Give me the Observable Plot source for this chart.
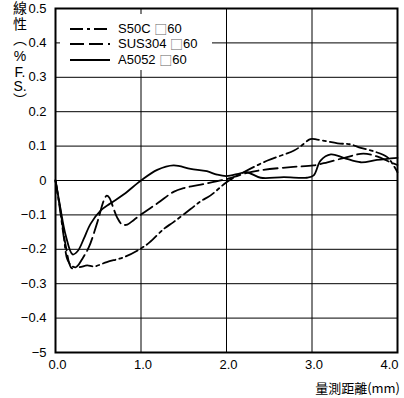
<!DOCTYPE html>
<html>
<head>
<meta charset="utf-8">
<script src="https://cdn.jsdelivr.net/npm/d3@7"></script>
<script src="https://cdn.jsdelivr.net/npm/@observablehq/plot@0.6"></script>
<style>
  html, body { margin: 0; padding: 0; background: #fff; }
  #wrap { position: relative; width: 404px; height: 398px; font-family: "Liberation Sans", Arial, sans-serif; }
  #ylab { position: absolute; left: 12px; top: 1px; writing-mode: vertical-rl; text-orientation: upright;
          font-family: "Noto Sans CJK TC", "Noto Sans CJK SC", sans-serif; font-size: 14px; line-height: 16px; letter-spacing: 1.5px; color: #000; }
  #ylab .tcu { text-combine-upright: all; font-family: "Liberation Sans", Arial, sans-serif; }
  #ylab .pct { font-family: "Liberation Sans", Arial, sans-serif; }
  #xlab { position: absolute; right: 4px; top: 378px; font-size: 13px; color: #000;
          font-family: "Noto Sans CJK TC", "Liberation Sans", sans-serif; }
  #legend { position: absolute; left: 60px; top: 14px; width: 152px; height: 56px; background: #fff; }
  #legend .row { position: absolute; left: 0; height: 15px; line-height: 15px; display: flex; align-items: center; font-size: 13px; color: #000; white-space: pre; }
  #legend .row span { display: inline-block; height: 15px; line-height: 15px; overflow: visible; }
  #legend .box { font-family: "Noto Sans CJK TC", sans-serif; color: #666; font-size: 13px; }
  #legend svg { margin-left: 10px; margin-right: 8px; }
</style>
</head>
<body>
<div id="wrap">
  <div id="chart"></div>
  <div id="legend"></div>
  <div id="ylab">線性（<span class="pct">%</span><span class="tcu">F.</span><span class="tcu">S.</span>）</div>
  <div id="xlab">量測距離(mm)</div>
</div>
<script>
// ---- data ----
const seriesNames = ["S50C □60", "SUS304 □60", "A5052 □60"];
const seriesDash = ["13,4,3,4", "14,5", null];

const s50cX = [0, 0.05, 0.1, 0.14, 0.2, 0.28, 0.37, 0.45, 0.6, 0.8, 0.99, 1.1, 1.27, 1.38, 1.58, 1.7, 1.81, 2.0, 2.12, 2.2, 2.48, 2.79, 2.87, 2.98, 3.06, 3.3, 3.45, 3.57, 3.72, 3.88, 3.95, 4.0];
const s50cY = [0, -0.08, -0.17, -0.23, -0.25, -0.252, -0.247, -0.25, -0.237, -0.223, -0.199, -0.18, -0.14, -0.121, -0.083, -0.06, -0.044, -0.005, 0.013, 0.024, 0.058, 0.087, 0.1, 0.12, 0.119, 0.108, 0.105, 0.095, 0.085, 0.068, 0.045, 0.024];

const sus304X = [0, 0.06, 0.12, 0.19, 0.25, 0.32, 0.39, 0.49, 0.565, 0.6, 0.63, 0.67, 0.72, 0.78, 0.84, 0.92, 1.0, 1.2, 1.38, 1.5, 1.7, 2.0, 2.24, 2.4, 2.75, 3.02, 3.18, 3.41, 3.6, 3.76, 3.9, 4.0];
const sus304Y = [0, -0.09, -0.19, -0.255, -0.25, -0.225, -0.194, -0.121, -0.058, -0.044, -0.05, -0.075, -0.107, -0.128, -0.128, -0.114, -0.099, -0.065, -0.033, -0.022, -0.012, 0.004, 0.022, 0.03, 0.039, 0.044, 0.053, 0.068, 0.078, 0.07, 0.055, 0.045];

const a5052X = [0, 0.05, 0.12, 0.2, 0.26, 0.33, 0.41, 0.53, 0.64, 0.8, 1.0, 1.19, 1.38, 1.58, 1.77, 1.89, 2.0, 2.16, 2.24, 2.4, 2.67, 2.94, 3.02, 3.1, 3.22, 3.37, 3.57, 3.76, 4.0];
const a5052Y = [0, -0.07, -0.16, -0.215, -0.205, -0.17, -0.126, -0.087, -0.067, -0.04, 0.0, 0.031, 0.044, 0.034, 0.027, 0.017, 0.013, 0.021, 0.024, 0.008, 0.010, 0.008, 0.015, 0.058, 0.076, 0.066, 0.053, 0.06, 0.066];

const xTicks = [0, 1, 2, 3, 4];
const xTickLabels = ["0.0", "1.0", "2.0", "3.0", "4.0"];
const yTicks = [0.5, 0.4, 0.3, 0.2, 0.1, 0, -0.1, -0.2, -0.3, -0.4, -0.5];
const yTickLabels = ["0.5", "0.4", "0.3", "0.2", "0.1", "0", "\u22120.1", "\u22120.2", "\u22120.3", "\u22120.4", "\u22125"];

// ---- build table ----
const xs = [s50cX, sus304X, a5052X];
const ys = [s50cY, sus304Y, a5052Y];
const series = seriesNames.map((name, k) => xs[k].map((x, i) => ({x, y: ys[k][i], name})));
const xFmt = d => xTickLabels[xTicks.indexOf(d)];

const plot = Plot.plot({
  width: 404,
  height: 398,
  marginLeft: 55,
  marginTop: 8,
  marginRight: 7,
  marginBottom: 46,
  style: {fontFamily: "'Liberation Sans', Arial, sans-serif", fontSize: "13px", color: "#000", background: "#fff"},
  x: {domain: [0, 4], label: null},
  y: {domain: [-0.5, 0.5], ticks: yTicks, tickFormat: d => yTickLabels[yTicks.indexOf(d)], tickSize: 0, tickPadding: 9, label: null},
  marks: [
    Plot.gridX([1, 2, 3], {stroke: "#000", strokeOpacity: 1, strokeWidth: 1}),
    Plot.gridY(yTicks.slice(1, -1), {stroke: "#000", strokeOpacity: 1, strokeWidth: 1}),
    Plot.axisX(xTicks.slice(0, -1), {tickFormat: xFmt, tickSize: 0, tickPadding: 7, dx: 2, label: null}),
    Plot.axisX(xTicks.slice(-1), {tickFormat: xFmt, tickSize: 0, tickPadding: 7, textAnchor: "end", dx: 1, label: null}),
    ...series.map((data, k) => Plot.line(data, {
      x: "x", y: "y", stroke: "#000", strokeWidth: 1.8,
      strokeDasharray: seriesDash[k] || undefined, curve: "catmull-rom"
    })),
    Plot.frame({stroke: "#000", strokeWidth: 2})
  ]
});
document.getElementById("chart").appendChild(plot);

// ---- legend ----
const legend = d3.select("#legend");
const rowTops = [7, 22, 38];
seriesNames.forEach((name, k) => {
  const row = legend.append("div").attr("class", "row").style("top", rowTops[k] + "px");
  const svg = row.append("svg").attr("width", 40).attr("height", 4);
  svg.append("line").attr("x1", 0).attr("x2", 40).attr("y1", 2).attr("y2", 2)
    .attr("stroke", "#000").attr("stroke-width", 1.8)
    .attr("stroke-dasharray", seriesDash[k] || null);
  const parts = name.split("□");
  row.append("span").text(parts[0]);
  row.append("span").attr("class", "box").text("□");
  row.append("span").text(parts[1]);
});
</script>
</body>
</html>
